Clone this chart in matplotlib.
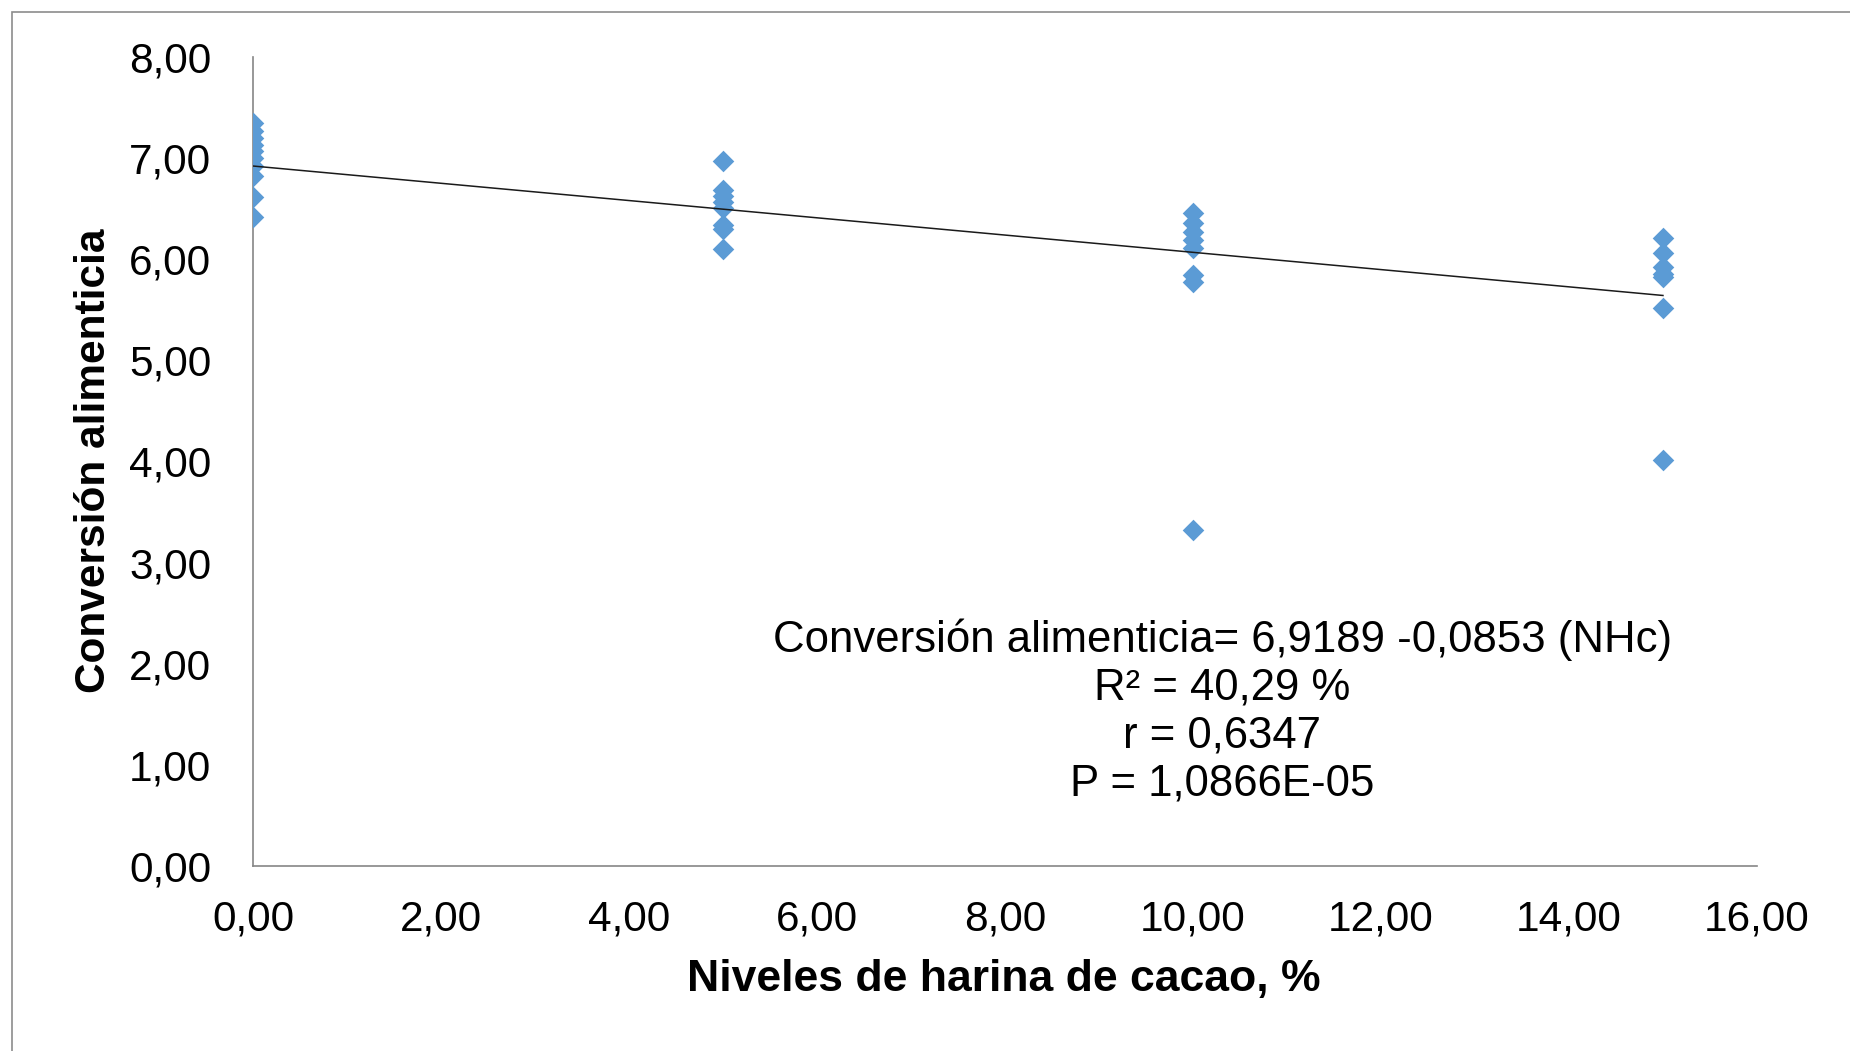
# plot.py
# Conversión alimenticia vs niveles de harina de cacao

import matplotlib
matplotlib.use("Agg")
import matplotlib.pyplot as plt
from matplotlib.patches import Rectangle

plt.rcParams['font.family'] = ['Liberation Sans', 'DejaVu Sans']

# datos
niveles = [0.0, 5.0, 10.0, 15.0]
conv_0 = [7.34, 7.27, 7.20, 7.13, 7.07, 7.00, 6.92, 6.82, 6.61, 6.42]
conv_5 = [6.97, 6.68, 6.62, 6.56, 6.50, 6.34, 6.30, 6.10]
conv_10 = [6.45, 6.36, 6.27, 6.19, 6.11, 5.84, 5.77, 3.32]
conv_15 = [6.21, 6.06, 5.92, 5.85, 5.82, 5.52, 4.01]
grupos = [conv_0, conv_5, conv_10, conv_15]

intercepto = 6.9189
pendiente = -0.0853

x_ticks = [0, 2, 4, 6, 8, 10, 12, 14, 16]
y_ticks = [0, 1, 2, 3, 4, 5, 6, 7, 8]

texto = ["Conversión alimenticia= 6,9189 -0,0853 (NHc)",
         "R² = 40,29 %",
         "r = 0,6347",
         "P = 1,0866E-05"]

c_azul = "#5B9BD5"
c_eje = "#868686"

fig = plt.figure(figsize=(18.5, 10.51), dpi=100)
ax = fig.add_axes([0.1368, 0.176, 0.8129, 0.7701])

# marco gris del gráfico
fig.patches.append(Rectangle((12/1850, -0.1), 1.2, 1.1 - 12/1051,
                             transform=fig.transFigure, fill=False,
                             edgecolor="#8c8c8c", linewidth=1.2))

xs, ys = [], []
for nivel, vals in zip(niveles, grupos):
    xs += [nivel] * len(vals)
    ys += vals
ax.scatter(xs, ys, marker="D", s=11**2, color=c_azul, linewidths=0, zorder=3)

x_lin = [niveles[0], niveles[-1]]
y_lin = [intercepto + pendiente * x for x in x_lin]
ax.plot(x_lin, y_lin, color="#1a1a1a", linewidth=1.1, zorder=4)

ax.set_xlim(0, 16)
ax.set_ylim(0, 8)
ax.set_xticks(x_ticks)
ax.set_yticks(y_ticks)
ax.set_xticklabels([f"{v:.2f}".replace(".", ",") for v in x_ticks])
ax.set_yticklabels([f"{v:.2f}".replace(".", ",") for v in y_ticks])
ax.tick_params(length=0, labelsize=30.5)
ax.tick_params(axis="x", pad=24)
ax.tick_params(axis="y", pad=30)

for s in ["top", "right"]:
    ax.spines[s].set_visible(False)
for s in ["left", "bottom"]:
    ax.spines[s].set_color(c_eje)
    ax.spines[s].set_linewidth(1.2)

fig.text(1004/1850, 1 - 979/1051, "Niveles de harina de cacao, %",
         ha="center", va="center", fontsize=32, fontweight="bold")
fig.text(94/1850, 1 - 461/1051, "Conversión alimenticia", rotation=90,
         ha="center", va="center", fontsize=30.5, fontweight="bold")

for i, linea in enumerate(texto):
    ax.text(10.31, 2.24 - i * 0.478, linea, ha="center", va="center",
            fontsize=31.5)

fig.savefig("out.png", dpi=100)
